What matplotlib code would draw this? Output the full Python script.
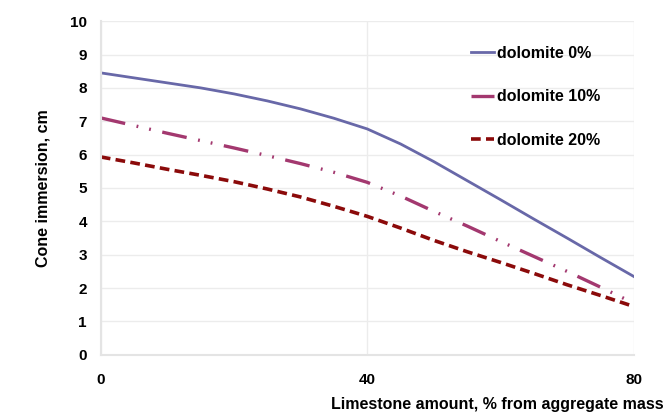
import matplotlib
matplotlib.use('Agg')
import matplotlib.pyplot as plt

plt.rcParams['font.family'] = ['Liberation Sans', 'DejaVu Sans']
plt.rcParams['font.weight'] = 'bold'
plt.rcParams['axes.labelweight'] = 'bold'
plt.rcParams['lines.scale_dashes'] = False

# limestone amount, % from aggregate mass
limestone = [0, 5, 10, 15, 20, 25, 30, 35, 40, 45, 50, 55, 60, 65, 70, 75, 80]
# cone immersion, cm
dol_0 = [8.45, 8.3, 8.15, 8.0, 7.82, 7.61, 7.37, 7.09, 6.77, 6.32, 5.79, 5.22,
         4.65, 4.07, 3.5, 2.92, 2.35]
dol_10 = [7.1, 6.87, 6.64, 6.42, 6.2, 5.97, 5.73, 5.47, 5.17, 4.76, 4.3, 3.86,
          3.4, 2.95, 2.5, 2.03, 1.55]
dol_20 = [5.93, 5.75, 5.56, 5.38, 5.19, 4.97, 4.73, 4.45, 4.15, 3.8, 3.43, 3.09,
          2.77, 2.44, 2.1, 1.78, 1.45]
labels = ['dolomite 0%', 'dolomite 10%', 'dolomite 20%']

fig = plt.figure(figsize=(6.72, 4.15), dpi=100)
ax = fig.add_axes([0.150, 0.145, 0.793, 0.804])

ax.plot(limestone, dol_0, color='#6868a8', lw=2.0, label=labels[0])
ax.plot(limestone, dol_10, color='#a3386f', lw=2.4, label=labels[1],
        dashes=[18, 8.4, 1.3, 8, 1.3, 8.4], dash_capstyle='butt')
ax.plot(limestone, dol_20, color='#8b0a0a', lw=2.6, label=labels[2],
        dashes=[7, 3.8], dash_capstyle='butt')

ax.set_xlim(0, 80)
ax.set_ylim(0, 10)
ax.set_xticks([0, 40, 80])
ax.set_yticks(range(0, 11))
ax.grid(True, color='#ececec', lw=1)
ax.set_axisbelow(True)
for s in ['top', 'right']:
    ax.spines[s].set_visible(False)
for s in ['left', 'bottom']:
    ax.spines[s].set_color('#e4e4e4')
    ax.spines[s].set_linewidth(1.5)
ax.tick_params(length=0, labelsize=11)
ax.tick_params(axis='x', pad=13)
ax.tick_params(axis='y', pad=10)

ax.set_ylabel('Cone immersion, cm', fontsize=11.5, labelpad=14)
fig.text(0.988, 0.008, 'Limestone amount, % from aggregate mass',
         ha='right', va='bottom', fontsize=11.5)

ax.legend(loc='upper right', bbox_to_anchor=(0.964, 0.97), frameon=False,
          fontsize=11.5, handlelength=1.5, handletextpad=0.15, labelspacing=1.8)

fig.savefig('out.png', dpi=100)
